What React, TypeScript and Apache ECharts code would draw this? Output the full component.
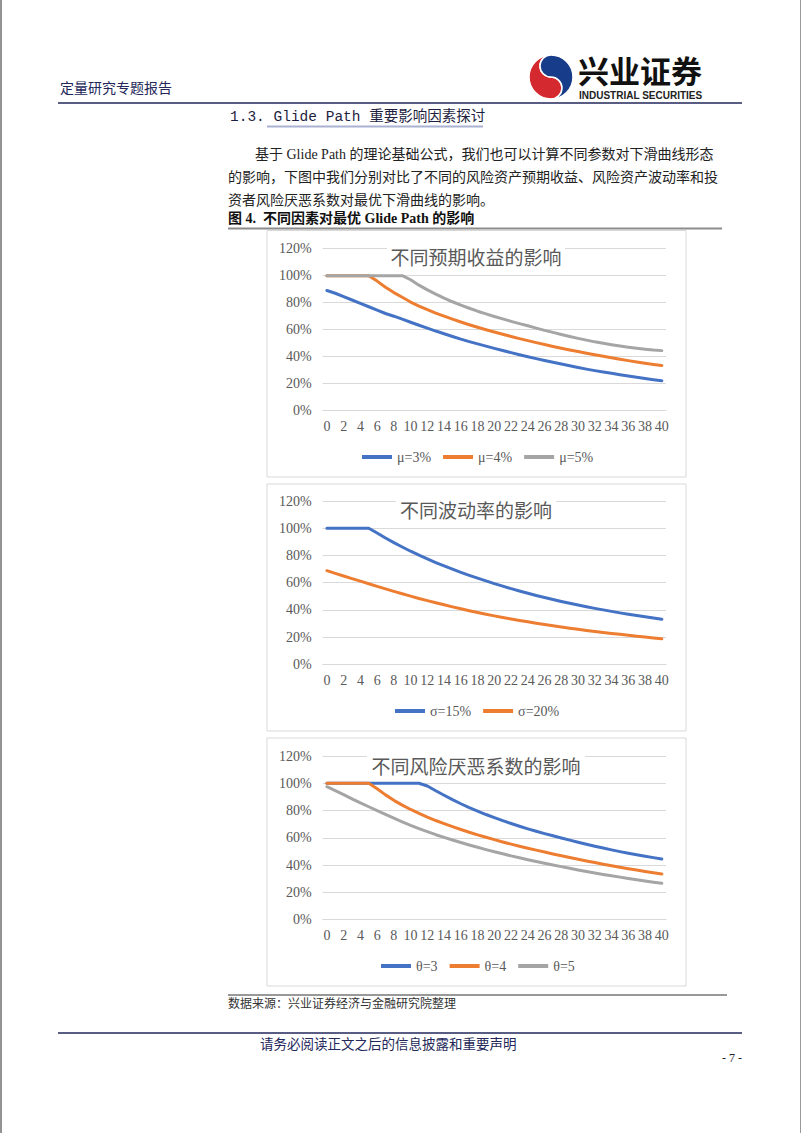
import React, { useEffect, useRef } from "react";
import * as echarts from "echarts";

// ---------- data ----------
const years = ["0","1","2","3","4","5","6","7","8","9","10","11","12","13","14","15","16","17","18","19","20","21","22","23","24","25","26","27","28","29","30","31","32","33","34","35","36","37","38","39","40"];
const yTicksMax = 120;

const chart1Title = "不同预期收益的影响";
const chart1Names = ["μ=3%", "μ=4%", "μ=5%"];
const mu3 = [89,87,84.5,82,79.5,77,74.5,72,70,67.8,65.5,63.3,61.2,59,57,55,53,51.2,49.5,47.8,46.2,44.6,43,41.5,40,38.6,37.2,35.9,34.6,33.3,32,30.8,29.7,28.7,27.7,26.7,25.7,24.8,23.9,23,22.2];
const mu4 = [100,100,100,100,100,100,96,91.5,87.5,84,80.5,77.5,74.8,72.3,70,67.8,65.7,63.7,61.8,60,58.3,56.6,55,53.4,51.9,50.4,49,47.6,46.3,45,43.8,42.6,41.4,40.3,39.2,38.1,37.1,36.1,35.1,34.2,33.4];
const mu5 = [100,100,100,100,100,100,100,100,100,100,97,93,89.5,86.3,83.4,80.7,78.2,75.9,73.7,71.7,69.8,68,66.2,64.5,62.9,61.2,59.5,58,56.5,55,53.6,52.3,51,49.9,48.9,47.9,47,46.2,45.5,44.9,44.5];

const chart2Title = "不同波动率的影响";
const chart2Names = ["σ=15%", "σ=20%"];
const sigma15 = [100,100,100,100,100,100,96.5,92.8,89.4,86.2,83.1,80.2,77.4,74.8,72.3,69.9,67.6,65.4,63.3,61.3,59.3,57.4,55.6,53.9,52.2,50.6,49.1,47.6,46.2,44.9,43.6,42.3,41.1,40,38.9,37.8,36.8,35.8,34.9,34,33.1];
const sigma20 = [68.8,66.8,64.9,63,61.1,59.2,57.3,55.4,53.6,51.8,50.1,48.4,46.8,45.2,43.7,42.2,40.8,39.4,38.1,36.8,35.6,34.4,33.3,32.2,31.2,30.2,29.2,28.3,27.4,26.5,25.7,24.9,24.1,23.4,22.7,22,21.3,20.6,20,19.3,18.7];

const chart3Title = "不同风险厌恶系数的影响";
const chart3Names = ["θ=3", "θ=4", "θ=5"];
const theta3 = [100,100,100,100,100,100,100,100,100,100,100,100,98,94.5,91.2,88,85,82.2,79.6,77.1,74.8,72.6,70.5,68.5,66.6,64.8,63.1,61.5,59.9,58.3,56.8,55.3,53.9,52.5,51.2,49.9,48.7,47.6,46.5,45.5,44.5];
const theta4 = [100,100,100,100,100,100,96,91.5,87.5,84,80.8,77.9,75.2,72.7,70.4,68.2,66.1,64.1,62.2,60.4,58.7,57,55.4,53.9,52.4,51,49.6,48.2,46.9,45.6,44.3,43.1,41.9,40.7,39.6,38.5,37.4,36.4,35.4,34.4,33.5];
const theta5 = [97.5,94.6,91.7,88.6,85.6,82.8,80,77.2,74.5,71.8,69.2,66.8,64.5,62.3,60.3,58.4,56.6,54.8,53.1,51.4,49.8,48.3,46.8,45.4,44,42.7,41.4,40.1,38.9,37.7,36.5,35.4,34.3,33.2,32.2,31.2,30.2,29.3,28.4,27.5,26.7];

// ---------- page text ----------
const headerLeft = "定量研究专题报告";
const brandCn = "兴业证券";
const brandEn = "INDUSTRIAL SECURITIES";
const sectionTitle = "1.3. Glide Path 重要影响因素探讨";
const paraLines = [
  "基于 Glide Path 的理论基础公式，我们也可以计算不同参数对下滑曲线形态",
  "的影响，下图中我们分别对比了不同的风险资产预期收益、风险资产波动率和投",
  "资者风险厌恶系数对最优下滑曲线的影响。",
];
const figCaption = "图 4.  不同因素对最优 Glide Path 的影响";
const sourceText = "数据来源：兴业证券经济与金融研究院整理";
const footerText = "请务必阅读正文之后的信息披露和重要声明";
const pageNo = "- 7 -";

const BLUE = "#4472C4";
const ORANGE = "#ED7D31";
const GRAY = "#A5A5A5";
const NAVY = "#23275a";
const AXIS_TXT = "#595959";
const GRID_LINE = "#d9d9d9";

echarts.graphic.registerShape(
  "logoRed",
  echarts.graphic.extendPath("M0,-22 A22,22 0 0,0 0,22 A11,11 0 0,0 0,0 A11,11 0 0,1 0,-22 Z", {})
);
echarts.graphic.registerShape(
  "logoBlue",
  echarts.graphic.extendPath("M0,-22 A22,22 0 0,1 0,22 A11,11 0 0,0 0,0 A11,11 0 0,1 0,-22 Z", {})
);

const serif = "'Liberation Serif', 'Noto Sans CJK SC', serif";
const cjk = "'Noto Sans CJK SC', sans-serif";

const charts = [
  { top: 248.7, height: 162, title: chart1Title, titleY: 256.7, titleW: 178, names: chart1Names, data: [mu3, mu4, mu5], colors: [BLUE, ORANGE, GRAY], legendLeft: 362, legendTop: 450, box: [267, 230.5, 419, 246.5] },
  { top: 501, height: 163.3, title: chart2Title, titleY: 509.5, titleW: 160, names: chart2Names, data: [sigma15, sigma20], colors: [BLUE, ORANGE], legendLeft: 395, legendTop: 704, box: [267, 484, 419, 247] },
  { top: 756, height: 163.7, title: chart3Title, titleY: 765, titleW: 218, names: chart3Names, data: [theta3, theta4, theta5], colors: [BLUE, ORANGE, GRAY], legendLeft: 381, legendTop: 959, box: [267, 738, 419, 248] },
];

export default function App() {
  const ref = useRef<HTMLDivElement>(null);
  useEffect(() => {
    if (!ref.current) return;
    const chart = echarts.init(ref.current, undefined, { renderer: "svg" });

    const grid: any[] = [];
    const xAxis: any[] = [];
    const yAxis: any[] = [];
    const legend: any[] = [];
    const series: any[] = [];
    const chartGraphics: any[] = [];

    charts.forEach((c, i) => {
      grid.push({ left: 322.7, top: c.top, width: 343.3, height: c.height, containLabel: false });
      xAxis.push({
        type: "category",
        gridIndex: i,
        data: years,
        boundaryGap: true,
        axisTick: { show: false },
        axisLine: { show: true, lineStyle: { color: GRID_LINE, width: 1 } },
        axisLabel: { interval: 1, color: AXIS_TXT, fontSize: 14, fontFamily: serif, margin: 9 },
      });
      yAxis.push({
        type: "value",
        gridIndex: i,
        min: 0,
        max: yTicksMax,
        interval: 20,
        axisLine: { show: false },
        axisTick: { show: false },
        splitLine: { lineStyle: { color: GRID_LINE, width: 1 } },
        axisLabel: { formatter: "{value}%", color: AXIS_TXT, fontSize: 14, fontFamily: serif, margin: 11 },
      });
      legend.push({
        data: c.names,
        left: c.legendLeft,
        top: c.legendTop,
        padding: 0,
        icon: "rect",
        itemWidth: 30,
        itemHeight: 4,
        itemGap: 12,
        selectedMode: false,
        textStyle: { fontSize: 14, fontFamily: serif, color: AXIS_TXT },
      });
      c.names.forEach((n, k) => {
        series.push({
          type: "line",
          name: n,
          xAxisIndex: i,
          yAxisIndex: i,
          data: c.data[k],
          showSymbol: false,
          symbol: "none",
          color: c.colors[k],
          lineStyle: { width: 3, color: c.colors[k], cap: "round", join: "round" },
          z: 3,
        });
      });
      chartGraphics.push({
        type: "rect",
        shape: { x: c.box[0], y: c.box[1], width: c.box[2], height: c.box[3] },
        style: { fill: "none", stroke: GRID_LINE, lineWidth: 1 },
        z: 1,
        silent: true,
      });
      chartGraphics.push({
        type: "rect",
        shape: { x: 476 - c.titleW / 2, y: c.titleY - 11, width: c.titleW, height: 22 },
        style: { fill: "#ffffff" },
        z: 10,
        silent: true,
      });
      chartGraphics.push({
        type: "text",
        x: 476,
        y: c.titleY,
        style: { text: c.title, fontSize: 19, fontFamily: cjk, fill: AXIS_TXT, align: "center", verticalAlign: "middle" },
        z: 11,
        silent: true,
      });
    });

    const pageGraphics: any[] = [
      { type: "line", shape: { x1: 1, y1: 0, x2: 1, y2: 1133 }, style: { stroke: "#6f6f6f", lineWidth: 1.5 }, z: 20 },
      { type: "line", shape: { x1: 800.5, y1: 0, x2: 800.5, y2: 1133 }, style: { stroke: "#9a9a9a", lineWidth: 1 }, z: 20 },
      { type: "text", x: 60, y: 87, style: { text: headerLeft, fontSize: 14, fontFamily: cjk, fill: NAVY, verticalAlign: "middle" }, z: 20 },
      { type: "logoRed", x: 551, y: 77, style: { fill: "#d42a2f", stroke: "#ffffff", lineWidth: 1.5 }, z: 20 },
      { type: "logoBlue", x: 551, y: 77, style: { fill: "#173c8a", stroke: "#ffffff", lineWidth: 1.5 }, z: 20 },
      { type: "text", x: 578, y: 69, style: { text: brandCn, fontSize: 31, fontWeight: "bold", fontFamily: cjk, fill: "#111111", verticalAlign: "middle" }, z: 20 },
      { type: "text", x: 579, y: 95.5, style: { text: brandEn, fontSize: 10, fontWeight: "bold", fontFamily: "'Liberation Sans', sans-serif", fill: "#222222", verticalAlign: "middle" }, z: 20 },
      { type: "line", shape: { x1: 58, y1: 103, x2: 742, y2: 103 }, style: { stroke: NAVY, lineWidth: 1.5 }, z: 20 },
      { type: "text", x: 230, y: 117, style: { text: sectionTitle, fontSize: 14.5, fontFamily: "'Liberation Mono', 'Noto Sans CJK SC', monospace", fill: "#1e1e40", verticalAlign: "middle" }, z: 20 },
      { type: "line", shape: { x1: 267, y1: 126.5, x2: 483, y2: 126.5 }, style: { stroke: "#aab2d2", lineWidth: 2 }, z: 20 },
      { type: "text", x: 255, y: 154, style: { text: paraLines[0], fontSize: 14, fontFamily: serif, fill: "#222222", verticalAlign: "middle" }, z: 20 },
      { type: "text", x: 228, y: 177.5, style: { text: paraLines[1], fontSize: 14, fontFamily: serif, fill: "#222222", verticalAlign: "middle" }, z: 20 },
      { type: "text", x: 228, y: 200, style: { text: paraLines[2], fontSize: 14, fontFamily: serif, fill: "#222222", verticalAlign: "middle" }, z: 20 },
      { type: "text", x: 228, y: 218, style: { text: figCaption, fontSize: 14, fontWeight: "bold", fontFamily: serif, fill: "#111111", verticalAlign: "middle" }, z: 20 },
      { type: "line", shape: { x1: 228, y1: 228.5, x2: 722, y2: 228.5 }, style: { stroke: "#8c8c8c", lineWidth: 2 }, z: 20 },
      { type: "line", shape: { x1: 228, y1: 995, x2: 727, y2: 995 }, style: { stroke: "#333333", lineWidth: 1 }, z: 20 },
      { type: "text", x: 228, y: 1004, style: { text: sourceText, fontSize: 12, fontFamily: serif, fill: "#333333", verticalAlign: "middle" }, z: 20 },
      { type: "line", shape: { x1: 58, y1: 1033, x2: 742, y2: 1033 }, style: { stroke: NAVY, lineWidth: 1.5 }, z: 20 },
      { type: "text", x: 260, y: 1044, style: { text: footerText, fontSize: 13.5, fontFamily: serif, fill: NAVY, verticalAlign: "middle" }, z: 20 },
      { type: "text", x: 742, y: 1058, style: { text: pageNo, fontSize: 12, fontFamily: serif, fill: "#222222", align: "right", verticalAlign: "middle" }, z: 20 },
    ];

    chart.setOption({
      animation: false,
      backgroundColor: "#ffffff",
      grid,
      xAxis,
      yAxis,
      legend,
      series,
      graphic: { elements: [...chartGraphics, ...pageGraphics] },
    });
    return () => chart.dispose();
  }, []);

  return <div ref={ref} style={{ position: "absolute", left: 0, top: 0, width: 802, height: 1133 }} />;
}
